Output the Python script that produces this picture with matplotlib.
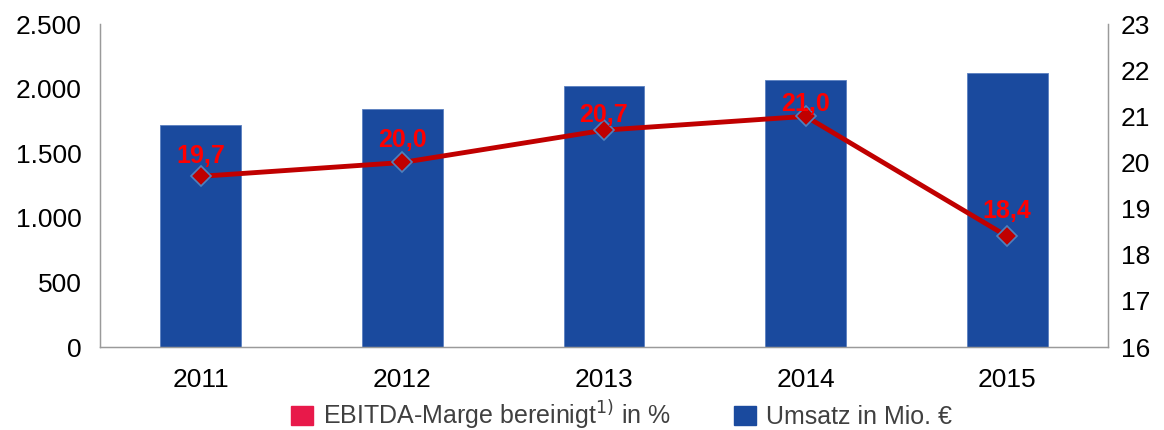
import matplotlib
matplotlib.use("Agg")
import matplotlib.pyplot as plt
from matplotlib.patches import Patch

plt.rcParams['font.family'] = ['Liberation Sans', 'DejaVu Sans']

years = ["2011", "2012", "2013", "2014", "2015"]
umsatz = [1718, 1842, 2018, 2065, 2120]
marge = [19.7, 20.0, 20.7, 21.0, 18.4]
left_ticks = [0, 500, 1000, 1500, 2000, 2500]
left_labels = ["0", "500", "1.000", "1.500", "2.000", "2.500"]
right_ticks = [16, 17, 18, 19, 20, 21, 22, 23]

# label baseline offsets above each marker (points) - placement only
label_offsets = [9.5, 10.8, 5.8, 3.6, 13.0]

bar_color = "#1a4a9e"
line_color = "#c00000"
label_color = "#ff0000"
legend_red = "#e8194a"

fig = plt.figure(figsize=(11.64, 4.30), dpi=100)
ax = fig.add_axes([0.0859, 0.193, 0.8660, 0.751])
x = list(range(len(years)))
ax.bar(x, umsatz, width=0.4, color=bar_color, edgecolor="#5a7fc0", linewidth=0.6, zorder=2)
ax.set_xlim(-0.5, len(years) - 0.5)
ax.set_ylim(0, 2500)
ax.set_yticks(left_ticks)
ax.set_yticklabels(left_labels)
ax.set_xticks(x)
ax.set_xticklabels(years)
ax.tick_params(axis='both', length=0, labelsize=19, colors="black")
ax.tick_params(axis='y', pad=13)
ax.tick_params(axis='x', pad=15)
ax.spines["top"].set_visible(False)
for s in ["left", "bottom", "right"]:
    ax.spines[s].set_color("#9a9a9a")
    ax.spines[s].set_linewidth(1.0)

ax2 = ax.twinx()
ax2.plot(x, marge, color=line_color, linewidth=3.5, marker="D", markersize=10,
         markerfacecolor=line_color, markeredgecolor="#4f81bd", markeredgewidth=1.2, zorder=3)
ax2.set_ylim(16, 23)
ax2.set_yticks(right_ticks)
ax2.tick_params(axis='y', length=0, labelsize=19, pad=9)
ax2.spines["top"].set_visible(False)
for s in ["left", "bottom", "right"]:
    ax2.spines[s].set_color("#9a9a9a")
for xi, v, off in zip(x, marge, label_offsets):
    ax2.annotate(f"{v:.1f}".replace(".", ","), (xi, v), xytext=(0, off),
                 textcoords="offset points", ha="center", va="baseline",
                 color=label_color, fontsize=18, fontweight="bold", zorder=4)

handles = [Patch(color=legend_red), Patch(color=bar_color)]
labels = ["EBITDA-Marge bereinigt$^{1)}$ in %", "Umsatz in Mio. €"]
fig.legend(handles, labels, loc="center", bbox_to_anchor=(0.534, 0.035), ncol=2,
           frameon=False, fontsize=18, handlelength=0.9, handleheight=0.8,
           handletextpad=0.4, columnspacing=2.5, labelcolor="#404040")

fig.savefig("out.png", dpi=100)
